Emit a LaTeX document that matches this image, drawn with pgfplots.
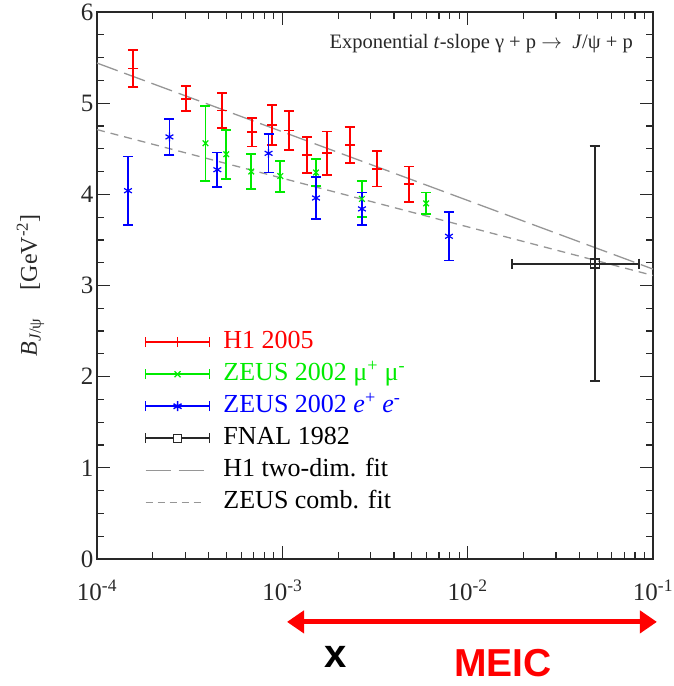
\documentclass[border=0pt]{standalone}
\usepackage{pgfplots}
\pgfplotsset{compat=1.18}
\usepackage{pgfplotstable}
\usepackage{fontspec}
\setmainfont{Liberation Serif}
\newfontfamily\arialfont{Liberation Sans}
\usetikzlibrary{arrows.meta}

\definecolor{hred}{RGB}{255,0,0}
\definecolor{zgreen}{RGB}{0,235,0}
\definecolor{zblue}{RGB}{0,0,255}
\definecolor{fitgray}{RGB}{150,150,150}
\definecolor{fnal}{RGB}{40,40,40}

\pgfplotstableread{
x y e
1.57e-4 5.38 0.20
3.03e-4 5.05 0.135
4.74e-4 4.92 0.19
6.89e-4 4.68 0.155
8.83e-4 4.76 0.22
1.09e-3 4.70 0.21
1.36e-3 4.43 0.20
1.74e-3 4.45 0.24
2.31e-3 4.54 0.20
3.25e-3 4.28 0.195
4.82e-3 4.11 0.195
}\hone

\pgfplotstableread{
x y e
3.85e-4 4.56 0.41
4.98e-4 4.44 0.27
6.80e-4 4.25 0.19
9.75e-4 4.20 0.17
1.52e-3 4.24 0.15
2.69e-3 3.95 0.20
5.97e-3 3.90 0.12
}\zmumu

\pgfplotstableread{
x y e
1.47e-4 4.04 0.375
2.46e-4 4.63 0.195
4.46e-4 4.27 0.19
8.43e-4 4.45 0.21
1.52e-3 3.96 0.23
2.69e-3 3.84 0.18
7.93e-3 3.54 0.265
}\zee

\pgfplotstableread{
x y exm exp ey
4.85e-2 3.24 0.0312 0.0358 1.29
}\fnaltab

\begin{document}
\begin{tikzpicture}
\path[use as bounding box] (-97pt,-127pt) rectangle (576pt,559pt);
\begin{axis}[
  scale only axis,
  width=556pt, height=547pt,
  xmode=log, xmin=1e-4, xmax=1e-1,
  ymin=0, ymax=6,
  clip=false,
  xtick={1e-4,1e-3,1e-2,1e-1},
  xticklabels={10\textsuperscript{-4},10\textsuperscript{-3},10\textsuperscript{-2},10\textsuperscript{-1}},
  minor xtick={2e-4,3e-4,4e-4,5e-4,6e-4,7e-4,8e-4,9e-4,2e-3,3e-3,4e-3,5e-3,6e-3,7e-3,8e-3,9e-3,2e-2,3e-2,4e-2,5e-2,6e-2,7e-2,8e-2,9e-2},
  ytick={0,1,2,3,4,5,6},
  minor y tick num=3,
  major tick length=13pt, minor tick length=7pt,
  tick style={line width=1.2pt, color=fnal},
  axis line style={line width=1.4pt, color=fnal},
  /pgf/number format/assume math mode=true,
  tick label style={font=\fontsize{25}{29}\selectfont, color=fnal},
  xticklabel style={yshift=-17pt},
  yticklabel style={xshift=0pt},
  ylabel={\textit{B}\textsubscript{\textit{J}/ψ}\hspace{28pt}[GeV\textsuperscript{-2}]},
  ylabel style={font=\fontsize{24}{28}\selectfont, color=fnal},
  ylabel shift=30pt,
  legend cell align=left,
  legend style={draw=none, fill=none, at={(0.08,0.425)}, anchor=north west,
    font=\fontsize{26}{30}\selectfont, row sep=5pt, column sep=12pt,
    nodes={inner sep=1pt, text height=19pt, text depth=6pt}},
]
% fits
\addplot[fitgray, line width=1.3pt, dash pattern=on 22pt off 7pt, forget plot] coordinates {(1e-4,5.44) (1e-1,3.18)};
\addplot[fitgray, line width=1.3pt, dash pattern=on 8pt off 6pt, forget plot] coordinates {(1e-4,4.71) (1e-1,3.11)};

% H1 2005
\addplot[hred, only marks, mark=-, mark size=5pt, mark options={line width=1.8pt}, forget plot,
  error bars/.cd, y dir=both, y explicit,
  error bar style={line width=1.8pt, hred},
  error mark options={line width=1.8pt, mark size=5pt, hred, rotate=90}]
  table[x=x, y=y, y error=e] {\hone};
% ZEUS mu mu
\addplot[zgreen, only marks, mark=x, mark size=4pt, mark options={line width=1.2pt}, forget plot,
  error bars/.cd, y dir=both, y explicit,
  error bar style={line width=1.8pt, zgreen},
  error mark options={line width=1.8pt, mark size=5pt, zgreen, rotate=90}]
  table[x=x, y=y, y error=e] {\zmumu};
% ZEUS e e
\addplot[zblue, only marks, mark=asterisk, mark size=4.5pt, mark options={line width=1.2pt}, forget plot,
  error bars/.cd, y dir=both, y explicit,
  error bar style={line width=1.8pt, zblue},
  error mark options={line width=1.8pt, mark size=5pt, zblue, rotate=90}]
  table[x=x, y=y, y error=e] {\zee};
% FNAL
\addplot[fnal, only marks, mark=square, mark size=4.5pt, mark options={line width=1.4pt, fill=white}, forget plot,
  error bars/.cd, y dir=both, y explicit, x dir=both, x explicit,
  error bar style={line width=1.8pt, fnal},
  error mark options={line width=1.8pt, mark size=5pt, fnal, rotate=90}]
  table[x=x, y=y, y error=ey, x error minus=exm, x error plus=exp] {\fnaltab};

% legend
\addlegendimage{legend image code/.code={
  \draw[hred, line width=1.8pt] (0pt,0pt) -- (64pt,0pt) (0pt,-5pt) -- (0pt,5pt) (64pt,-5pt) -- (64pt,5pt) (32pt,-5pt) -- (32pt,5pt);}}
\addlegendentry{\textcolor{hred}{H1 2005}}
\addlegendimage{legend image code/.code={
  \draw[zgreen, line width=1.8pt] (0pt,0pt) -- (64pt,0pt) (0pt,-5pt) -- (0pt,5pt) (64pt,-5pt) -- (64pt,5pt);
  \draw[zgreen, line width=1.2pt] (29pt,-3pt) -- (35pt,3pt) (29pt,3pt) -- (35pt,-3pt);}}
\addlegendentry{\textcolor{zgreen}{ZEUS 2002 μ\textsuperscript{+} μ\textsuperscript{-}}}
\addlegendimage{legend image code/.code={
  \draw[zblue, line width=1.8pt] (0pt,0pt) -- (64pt,0pt) (0pt,-5pt) -- (0pt,5pt) (64pt,-5pt) -- (64pt,5pt);
  \draw[zblue, line width=1.4pt] (32pt,-5pt) -- (32pt,5pt) (28pt,-2.5pt) -- (36pt,2.5pt) (28pt,2.5pt) -- (36pt,-2.5pt);}}
\addlegendentry{\textcolor{zblue}{ZEUS 2002 \textit{e}\textsuperscript{+} \textit{e}\textsuperscript{-}}}
\addlegendimage{legend image code/.code={
  \draw[fnal, line width=1.8pt] (0pt,0pt) -- (64pt,0pt) (0pt,-5pt) -- (0pt,5pt) (64pt,-5pt) -- (64pt,5pt);
  \draw[fnal, line width=1.4pt, fill=white] (28pt,-4pt) rectangle (36pt,4pt);}}
\addlegendentry{FNAL 1982}
\addlegendimage{legend image code/.code={
  \draw[fitgray, line width=1.3pt, dash pattern=on 25pt off 8pt] (0pt,0pt) -- (58pt,0pt);}}
\addlegendentry{H1 two-dim. fit}
\addlegendimage{legend image code/.code={
  \draw[fitgray, line width=1.3pt, dash pattern=on 7pt off 5pt] (0pt,0pt) -- (58pt,0pt);}}
\addlegendentry{ZEUS comb. fit}

% title
\node[anchor=east, font=\fontsize{20.5}{24}\selectfont, color=fnal, inner sep=0pt] at (rel axis cs:0.964,0.943)
  {Exponential \textit{t}-slope γ + p $\rightarrow$\ \ \textit{J}/ψ + p};

% MEIC range annotation
\draw[hred, line width=5pt, {Triangle[length=17pt, width=22pt]}-{Triangle[length=17pt, width=22pt]}]
  (axis cs:1.06e-3,-0.69) -- (axis cs:0.105,-0.69);
\node[anchor=base, font=\arialfont\bfseries\fontsize{40}{44}\selectfont, inner sep=0pt] at (axis cs:1.95e-3,-1.195) {x};
\node[anchor=base, font=\arialfont\bfseries\fontsize{39}{43}\selectfont, text=hred, inner sep=0pt] at (axis cs:0.0155,-1.285) {MEIC};
\end{axis}
\end{tikzpicture}
\end{document}
